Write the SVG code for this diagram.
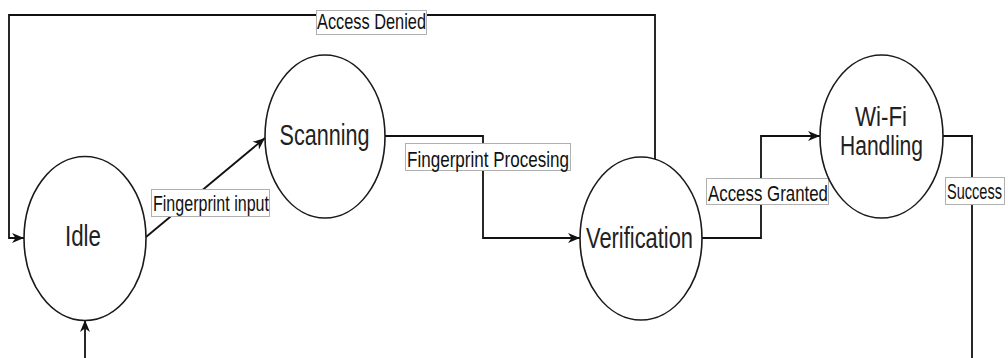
<svg xmlns="http://www.w3.org/2000/svg" width="1008" height="358" viewBox="0 0 1008 358">
<style>
.node{fill:#ffffff;stroke:#1a1a1a;stroke-width:1.6}
.ntext{font-family:"Liberation Sans",Arial,sans-serif;font-size:29px;fill:#222}
.wtext{font-family:"Liberation Sans",Arial,sans-serif;font-size:27px;fill:#222}
.edge{fill:none;stroke:#111;stroke-width:1.8}
.lbox{fill:#ffffff;stroke:#b0b0b0;stroke-width:1}
.ltext{font-family:"Liberation Sans",Arial,sans-serif;font-size:22px;fill:#111}
</style>
<defs>
<marker id="arr" markerUnits="userSpaceOnUse" markerWidth="13" markerHeight="13" viewBox="0 0 13 13" refX="12" refY="6.5" orient="auto">
<path d="M0,1.5 L12,6.5 L0,11.5 L3.5,6.5 Z" fill="#111"/>
</marker>
</defs>
<rect width="1008" height="358" fill="#ffffff"/>
<g id="connectors">
<path class="edge" d="M655,159 V15 H9 V238 H24" marker-end="url(#arr)"/>
<path class="edge" d="M146,237 L265,138" marker-end="url(#arr)"/>
<path class="edge" d="M385,136 H483 V238 H580" marker-end="url(#arr)"/>
<path class="edge" d="M702,238 H761 V136 H820" marker-end="url(#arr)"/>
<path class="edge" d="M943,136 H972 V358"/>
<path class="edge" d="M85,358 V320" marker-end="url(#arr)"/>
<g id="label-access-denied">
<rect class="lbox" x="316.5" y="10.5" width="110" height="24"/>
<text class="ltext" x="317" y="29" textLength="109" lengthAdjust="spacingAndGlyphs">Access Denied</text>
</g>
<g id="label-fingerprint-input">
<rect class="lbox" x="151.5" y="189.5" width="118" height="27"/>
<text class="ltext" x="153" y="210.5" textLength="116" lengthAdjust="spacingAndGlyphs">Fingerprint input</text>
</g>
<g id="label-fingerprint-processing">
<rect class="lbox" x="405.5" y="143.5" width="165" height="27"/>
<text class="ltext" x="407" y="166.5" textLength="162" lengthAdjust="spacingAndGlyphs">Fingerprint Procesing</text>
</g>
<g id="label-access-granted">
<rect class="lbox" x="706.5" y="178.5" width="122" height="26"/>
<text class="ltext" x="708" y="200.5" textLength="120" lengthAdjust="spacingAndGlyphs">Access Granted</text>
</g>
<g id="label-success">
<rect class="lbox" x="945.5" y="177.5" width="59" height="27"/>
<text class="ltext" x="947" y="199" textLength="55" lengthAdjust="spacingAndGlyphs">Success</text>
</g>
</g>
<g id="node-idle">
<ellipse class="node" cx="85" cy="238.5" rx="61" ry="82"/>
<text class="ntext" x="65" y="246" textLength="36" lengthAdjust="spacingAndGlyphs">Idle</text>
</g>
<g id="node-scanning">
<ellipse class="node" cx="325" cy="136.5" rx="60" ry="81.5"/>
<text class="ntext" x="279.5" y="145" textLength="90" lengthAdjust="spacingAndGlyphs">Scanning</text>
</g>
<g id="node-verification">
<ellipse class="node" cx="641" cy="238.5" rx="61" ry="81.5"/>
<text class="ntext" x="586" y="248" textLength="107" lengthAdjust="spacingAndGlyphs">Verification</text>
</g>
<g id="node-wifi-handling">
<ellipse class="node" cx="881.5" cy="136.5" rx="61.5" ry="81.5"/>
<text class="wtext" x="855" y="126" textLength="52" lengthAdjust="spacingAndGlyphs">Wi-Fi</text>
<text class="wtext" x="840" y="155" textLength="83" lengthAdjust="spacingAndGlyphs">Handling</text>
</g>
</svg>
